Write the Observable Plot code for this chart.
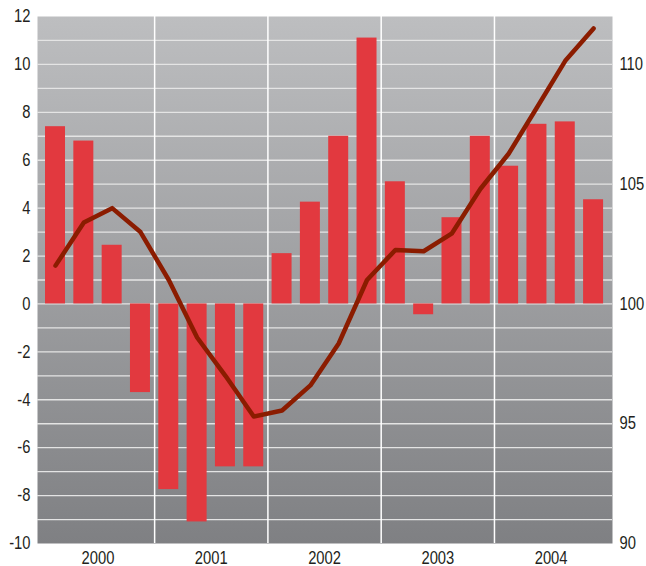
<!DOCTYPE html>
<html>
<head>
<meta charset="utf-8">
<script src="https://cdn.jsdelivr.net/npm/d3@7"></script>
<script src="https://cdn.jsdelivr.net/npm/@observablehq/plot@0.6"></script>
<style>
  html, body { margin: 0; padding: 0; background: #fff; }
  #chart svg { display: block; }
</style>
</head>
<body>
<div id="chart"></div>
<script>
// Quarterly data, 2000 Q1 – 2004 Q4
const years = ["2000", "2001", "2002", "2003", "2004"];
const quarters = d3.range(20); // quarter index 0..19
// Bars (left axis, % change)
const barValues = [7.4, 6.8, 2.45, -3.7, -7.75, -9.1, -6.8, -6.8,
                   2.1, 4.25, 7.0, 11.1, 5.1, -0.45, 3.6, 7.0,
                   5.75, 7.5, 7.6, 4.35];
// Line (right axis, index level)
const indexValues = [101.6, 103.4, 104.0, 103.0, 101.0, 98.6, 97.0, 95.3,
                     95.55, 96.6, 98.35, 101.0, 102.25, 102.2, 102.95, 104.8,
                     106.27, 108.2, 110.15, 111.5];
const leftTicks = d3.range(-10, 13, 2);
const rightTicks = [90, 95, 100, 105, 110];
const gridLines = d3.range(-9, 12);
const rightOffset = 100; // right axis = left axis + 100

const bars = quarters.map(i => ({i, v: barValues[i]}));
const line = quarters.map(i => ({i, v: indexValues[i] - rightOffset}));
const yearBounds = [3.5, 7.5, 11.5, 15.5];
const yearCenters = years.map((y, k) => 1.5 + 4 * k);

const font = "'Liberation Sans', Arial, sans-serif";

const gradient = () => {
  const g = d3.create("svg:defs");
  const lg = g.append("linearGradient")
    .attr("id", "bggrad").attr("x1", 0).attr("y1", 0).attr("x2", 0).attr("y2", 1);
  lg.append("stop").attr("offset", "0%").attr("stop-color", "#bdbec0");
  lg.append("stop").attr("offset", "100%").attr("stop-color", "#7f8083");
  return g.node();
};

const chart = Plot.plot({
  width: 646,
  height: 566,
  marginLeft: 37,
  marginRight: 34,
  marginTop: 16,
  marginBottom: 23,
  style: {fontFamily: font, fontSize: "18px", color: "#231f20", background: "#fff"},
  x: {type: "linear", domain: [-0.636, 19.668], axis: null},
  y: {domain: [-10, 12], axis: null},
  marks: [
    gradient,
    Plot.frame({fill: "url(#bggrad)", stroke: "none"}),
    Plot.ruleY(gridLines, {stroke: "#e4e4e4", strokeWidth: 1.3}),
    Plot.ruleX(yearBounds, {stroke: "#ffffff", strokeWidth: 1.5}),
    Plot.rect(bars, {x1: d => d.i - 0.353, x2: d => d.i + 0.353, y1: 0, y2: "v", fill: "#e2393f"}),
    Plot.line(line, {x: "i", y: "v", stroke: "#8b1c00", strokeWidth: 4.5, strokeLinejoin: "round", strokeLinecap: "round"}),
    Plot.axisY({anchor: "left", label: null, ticks: leftTicks, tickSize: 0, tickPadding: 7, tickFormat: d => String(d), fontSize: 18}),
    Plot.axisY({anchor: "right", label: null, ticks: rightTicks.map(t => t - rightOffset), tickSize: 0, tickPadding: 7, tickFormat: d => String(d + rightOffset), fontSize: 18}),
    Plot.axisX({anchor: "bottom", label: null, ticks: yearCenters, tickSize: 0, tickPadding: 8, tickFormat: (d) => years[Math.round((d - 1.5) / 4)], fontSize: 18})
  ]
});
document.getElementById("chart").appendChild(chart);
// Condense the tick labels horizontally (the reference uses a condensed face)
chart.querySelectorAll("text").forEach(t => {
  const w = t.getComputedTextLength();
  if (w > 0) {
    t.setAttribute("textLength", (w * 0.82).toFixed(2));
    t.setAttribute("lengthAdjust", "spacingAndGlyphs");
  }
});
</script>
</body>
</html>
